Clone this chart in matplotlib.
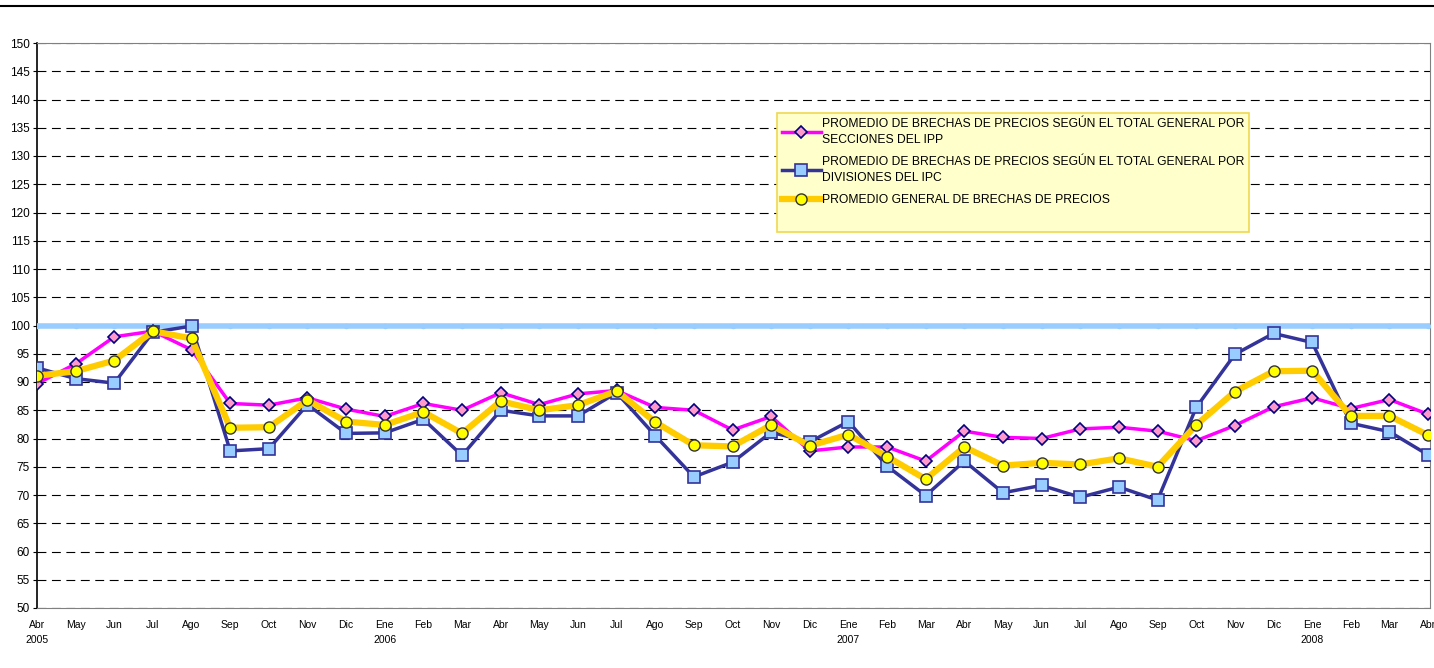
import matplotlib.pyplot as plt
from matplotlib.lines import Line2D

plt.rcParams['font.family'] = ['Liberation Sans', 'DejaVu Sans']

# Months from Abr 2005 to Abr 2008
months = ['Abr', 'May', 'Jun', 'Jul', 'Ago', 'Sep', 'Oct', 'Nov', 'Dic',
          'Ene', 'Feb', 'Mar'] * 3 + ['Abr']
years = {0: '2005', 9: '2006', 21: '2007', 33: '2008'}

ipp = [89.7, 93.2, 98.0, 99.0, 95.7, 86.2, 85.9, 87.2, 85.2, 83.9, 86.2, 85.0,
       88.1, 86.0, 87.9, 88.5, 85.5, 85.0, 81.5, 83.9, 77.8, 78.5, 78.5, 76.0,
       81.3, 80.2, 80.0, 81.7, 82.0, 81.3, 79.6, 82.3, 85.6, 87.2, 85.3, 86.9, 84.3]
ipc = [92.5, 90.6, 89.8, 98.8, 99.9, 77.8, 78.2, 86.0, 80.9, 81.0, 83.4, 77.0,
       85.0, 84.0, 84.0, 88.1, 80.5, 73.2, 75.8, 81.1, 79.4, 83.0, 75.1, 69.9,
       76.0, 70.4, 71.7, 69.6, 71.4, 69.1, 85.5, 94.9, 98.6, 97.0, 82.7, 81.2, 77.1]
general = [91.1, 91.9, 93.8, 99.0, 97.7, 81.9, 82.0, 86.8, 83.0, 82.4, 84.7, 80.9,
           86.6, 85.0, 85.9, 88.4, 82.9, 78.8, 78.6, 82.4, 78.7, 80.7, 76.8, 72.8,
           78.5, 75.2, 75.7, 75.4, 76.5, 75.0, 82.4, 88.3, 91.9, 92.0, 84.0, 84.0, 80.6]
reference = [100] * len(months)

labels = ['PROMEDIO DE BRECHAS DE PRECIOS SEGÚN EL TOTAL GENERAL POR\nSECCIONES DEL IPP',
          'PROMEDIO DE BRECHAS DE PRECIOS SEGÚN EL TOTAL GENERAL POR\nDIVISIONES DEL IPC',
          'PROMEDIO GENERAL DE BRECHAS DE PRECIOS']

x = list(range(len(months)))
tick_labels = [m + ('\n' + years[i] if i in years else '') for i, m in enumerate(months)]

fig = plt.figure(figsize=(14.34, 6.68), dpi=100)
ax = fig.add_axes([37 / 1434, 1 - 608 / 668, 1393 / 1434, 565 / 668])

# top rule of the page
fig.add_artist(Line2D([0, 1], [1 - 6 / 668, 1 - 6 / 668], color='black', lw=1.5))

ax.plot(x, reference, color='#99CCFF', lw=4, marker='o', markersize=3,
        markerfacecolor='#99CCFF', markeredgecolor='#99CCFF', zorder=3)
l1, = ax.plot(x, ipp, color='#FF00FF', lw=2.5, marker='D', markersize=6,
              markerfacecolor='#FF99CC', markeredgecolor='#000080', markeredgewidth=1.2, zorder=4)
l2, = ax.plot(x, ipc, color='#333399', lw=2.5, marker='s', markersize=8,
              markerfacecolor='#99CCFF', markeredgecolor='#333399', markeredgewidth=1.2, zorder=5)
l3, = ax.plot(x, general, color='#FFCC00', lw=4.5, marker='o', markersize=8,
              markerfacecolor='#FFFF00', markeredgecolor='#333333', markeredgewidth=1.0, zorder=6)

ax.set_xlim(0, len(months) - 1 + 0.05)
ax.set_ylim(50, 150)
ax.set_yticks(range(50, 151, 5))
ax.set_xticks(x)
ax.set_xticklabels(tick_labels, fontsize=7.5, linespacing=1.6)
ax.tick_params(axis='y', labelsize=8.5, length=3, width=0.8, pad=2)
ax.tick_params(axis='x', length=0, pad=9)

ax.grid(axis='y', color='black', linestyle=(0, (8, 5)), lw=0.8)
ax.set_axisbelow(True)

for side in ['top', 'right', 'bottom']:
    ax.spines[side].set_color('#808080')
ax.spines['left'].set_color('black')
ax.spines['left'].set_linewidth(1.2)

# empty last row gives the blank space at the bottom of the legend box
blank = Line2D([], [], color='none')
leg = ax.legend([l1, l2, l3, blank], labels + [' '], loc='upper left',
                bbox_to_anchor=(777 / 1434, 1 - 113 / 668), bbox_transform=fig.transFigure,
                fontsize=8.7, frameon=True, fancybox=False, borderpad=0.4,
                handlelength=3.2, handletextpad=0.1, labelspacing=0.85, borderaxespad=0)
for t in leg.get_texts():
    t.set_linespacing(1.45)
leg.get_texts()[3].set_fontsize(5)
leg.get_frame().set_facecolor('#FFFFCC')
leg.get_frame().set_edgecolor('#F0D850')
leg.get_frame().set_alpha(1)
leg.get_frame().set_linewidth(1.2)

plt.savefig('out.png', dpi=100)
